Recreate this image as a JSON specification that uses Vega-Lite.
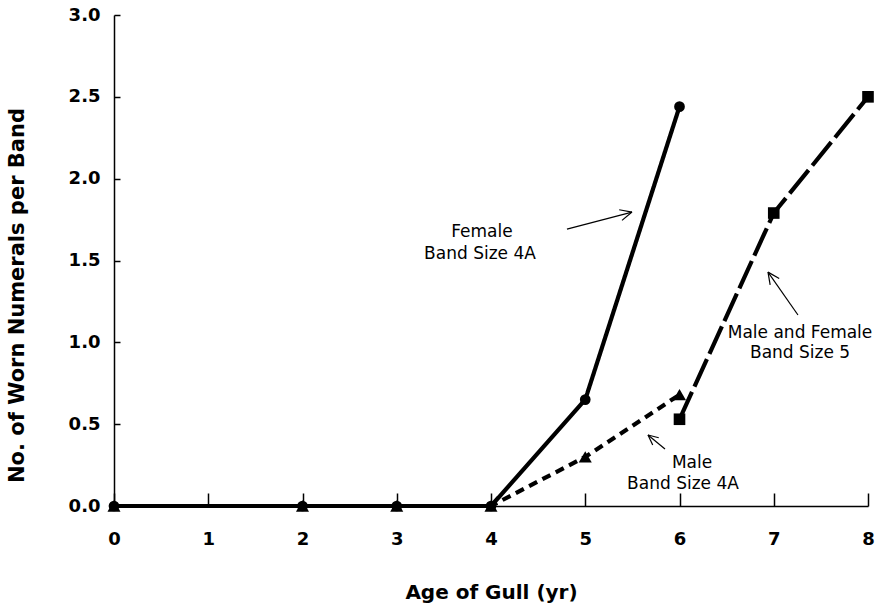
{
  "$schema": "https://vega.github.io/schema/vega-lite/v6.json",
  "width": 754,
  "height": 491,
  "autosize": {"type": "none"},
  "padding": {"left": 114, "top": 15, "right": 14, "bottom": 100},
  "background": "white",
  "config": {"view": {"stroke": null}, "font": "DejaVu Sans"},
  "datasets": {
    "series": [
      {"group": "Male Band Size 4A", "age": 0, "value": 0},
      {"group": "Male Band Size 4A", "age": 2, "value": 0},
      {"group": "Male Band Size 4A", "age": 3, "value": 0},
      {"group": "Male Band Size 4A", "age": 4, "value": 0},
      {"group": "Male Band Size 4A", "age": 5, "value": 0.30},
      {"group": "Male Band Size 4A", "age": 6, "value": 0.68},
      {"group": "Female Band Size 4A", "age": 0, "value": 0},
      {"group": "Female Band Size 4A", "age": 2, "value": 0},
      {"group": "Female Band Size 4A", "age": 3, "value": 0},
      {"group": "Female Band Size 4A", "age": 4, "value": 0},
      {"group": "Female Band Size 4A", "age": 5, "value": 0.65},
      {"group": "Female Band Size 4A", "age": 6, "value": 2.44},
      {"group": "Male and Female Band Size 5", "age": 6, "value": 0.53},
      {"group": "Male and Female Band Size 5", "age": 7, "value": 1.79},
      {"group": "Male and Female Band Size 5", "age": 8, "value": 2.50}
    ],
    "arrows": [
      {"age": 4.806, "value": 1.692, "age2": 5.496, "value2": 1.796},
      {"age": 5.496, "value": 1.796, "age2": 5.360, "value2": 1.810},
      {"age": 5.496, "value": 1.796, "age2": 5.390, "value2": 1.745},
      {"age": 7.257, "value": 1.167, "age2": 6.939, "value2": 1.429},
      {"age": 6.939, "value": 1.429, "age2": 6.962, "value2": 1.351},
      {"age": 6.939, "value": 1.429, "age2": 7.058, "value2": 1.390},
      {"age": 5.846, "value": 0.348, "age2": 5.666, "value2": 0.434},
      {"age": 5.666, "value": 0.434, "age2": 5.716, "value2": 0.373},
      {"age": 5.666, "value": 0.434, "age2": 5.780, "value2": 0.417}
    ],
    "labels": [
      {"age": 3.904, "value": 1.674, "text": "Female"},
      {"age": 3.883, "value": 1.539, "text": "Band Size 4A"},
      {"age": 7.279, "value": 1.057, "text": "Male and Female"},
      {"age": 7.279, "value": 0.935, "text": "Band Size 5"},
      {"age": 6.133, "value": 0.263, "text": "Male"},
      {"age": 6.037, "value": 0.134, "text": "Band Size 4A"}
    ]
  },
  "encoding": {
    "x": {
      "field": "age", "type": "quantitative",
      "scale": {"domain": [0, 8], "nice": false, "zero": false},
      "axis": {
        "values": [0, 1, 2, 3, 4, 5, 6, 7, 8],
        "title": "Age of Gull (yr)",
        "grid": false,
        "tickSize": -13, "tickWidth": 1.5, "tickColor": "black",
        "domainColor": "black", "domainWidth": 1.5,
        "labelFont": "DejaVu Sans", "labelFontSize": 18, "labelFontWeight": "bold",
        "labelColor": "black", "labelPadding": 37, "labelFlush": false,
        "titleFont": "DejaVu Sans", "titleFontSize": 20, "titleFontWeight": "bold",
        "titleColor": "black", "titleX": 377, "titleY": 86, "titleBaseline": "middle"
      }
    },
    "y": {
      "field": "value", "type": "quantitative",
      "scale": {"domain": [0, 3], "nice": false},
      "axis": {
        "values": [0, 0.5, 1, 1.5, 2, 2.5, 3],
        "format": ".1f",
        "title": "No. of Worn Numerals per Band",
        "grid": false,
        "tickSize": -6, "tickWidth": 1.5, "tickColor": "black",
        "domainColor": "black", "domainWidth": 1.5,
        "labelFont": "DejaVu Sans", "labelFontSize": 18, "labelFontWeight": "bold",
        "labelColor": "black", "labelPadding": 20, "labelFlush": false,
        "titleFont": "DejaVu Sans", "titleFontSize": 21, "titleFontWeight": "bold",
        "titleColor": "black", "titleX": -97, "titleY": 280, "titleBaseline": "middle"
      }
    }
  },
  "layer": [
    {
      "data": {"name": "series"},
      "mark": {"type": "line", "color": "black", "strokeWidth": 4.2, "clip": false},
      "encoding": {
        "strokeDash": {
          "field": "group", "type": "nominal",
          "scale": {
            "domain": ["Female Band Size 4A", "Male Band Size 4A", "Male and Female Band Size 5"],
            "range": [[1, 0], [9, 6], [30, 6]]
          },
          "legend": null
        },
        "order": {"field": "age", "type": "quantitative"}
      }
    },
    {
      "data": {"name": "series"},
      "transform": [{"filter": "datum.group === 'Male Band Size 4A'"}],
      "mark": {"type": "point", "shape": "triangle-up", "filled": true, "color": "black", "opacity": 1, "size": 170, "clip": false}
    },
    {
      "data": {"name": "series"},
      "transform": [{"filter": "datum.group === 'Female Band Size 4A'"}],
      "mark": {"type": "point", "shape": "circle", "filled": true, "color": "black", "opacity": 1, "size": 115, "clip": false}
    },
    {
      "data": {"name": "series"},
      "transform": [{"filter": "datum.group === 'Male and Female Band Size 5'"}],
      "mark": {"type": "point", "shape": "square", "filled": true, "color": "black", "opacity": 1, "size": 135, "clip": false}
    },
    {
      "data": {"name": "arrows"},
      "mark": {"type": "rule", "color": "black", "strokeWidth": 1.2, "clip": false},
      "encoding": {
        "x2": {"field": "age2"},
        "y2": {"field": "value2"}
      }
    },
    {
      "data": {"name": "labels"},
      "mark": {"type": "text", "font": "DejaVu Sans", "fontSize": 17, "align": "center", "baseline": "middle", "color": "black", "clip": false},
      "encoding": {
        "text": {"field": "text", "type": "nominal"}
      }
    }
  ]
}
